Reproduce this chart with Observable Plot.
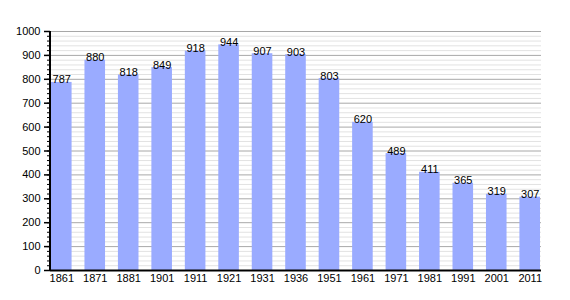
<!DOCTYPE html>
<html><head><meta charset="utf-8">
<script src="https://cdn.jsdelivr.net/npm/d3@7"></script>
<script src="https://cdn.jsdelivr.net/npm/@observablehq/plot@0.6"></script>
<style>body{margin:0;background:#fff;font-family:"Liberation Sans",Arial,sans-serif;}</style>
</head><body><div id="chart"></div>
<script>
const years = ["1861","1871","1881","1901","1911","1921","1931","1936","1951","1961","1971","1981","1991","2001","2011"];
const population = [787,880,818,849,918,944,907,903,803,620,489,411,365,319,307];
const majorTicks = [0,100,200,300,400,500,600,700,800,900,1000];
const minorTicks = d3.range(0,1001,20);
const data = years.map((y,i)=>({year:y, pop:population[i]}));
const chart = Plot.plot({
  width:570, height:300,
  marginLeft:50, marginRight:29, marginTop:31, marginBottom:30,
  style:{fontFamily:"Liberation Sans, Arial, sans-serif", fontSize:"11px", background:"#fff", color:"#000"},
  x:{domain:years, paddingInner:0.385, paddingOuter:0.03, round:false, label:null},
  y:{domain:[0,1000], label:null},
  marks:[
    Plot.ruleY(minorTicks.filter(d=>d%100), {stroke:"#e2e2e2", strokeWidth:1}),
    Plot.ruleY(majorTicks.filter(d=>d>0), {stroke:"#a8a8a8", strokeWidth:1}),
    Plot.barY(data, {x:"year", y:"pop", fill:"#9aabff"}),
    Plot.text(data, {x:"year", y:"pop", text:d=>String(d.pop), lineAnchor:"bottom", dy:1, fill:"#000", fontSize:11}),
    Plot.ruleY([0], {stroke:"#000", strokeWidth:2}),
    Plot.axisX({tickSize:0, tickPadding:4, label:null, fontSize:11}),
    Plot.axisY({ticks:majorTicks, tickFormat:d=>String(d), tickSize:6, tickPadding:4, label:null, fontSize:11, strokeWidth:1.5}),
    Plot.axisY({ticks:minorTicks, tickFormat:()=>"", tickSize:3, label:null})
  ]
});
// left axis line using the plot's y scale
const ys = chart.scale("y");
const svg = d3.select(chart.tagName.toLowerCase()==="svg" ? chart : chart.querySelector("svg"));
svg.append("line")
  .attr("x1",50).attr("x2",50)
  .attr("y1",ys.apply(1000)).attr("y2",ys.apply(0)+1)
  .attr("stroke","#000").attr("stroke-width",2);
document.getElementById("chart").append(chart);
</script></body></html>
